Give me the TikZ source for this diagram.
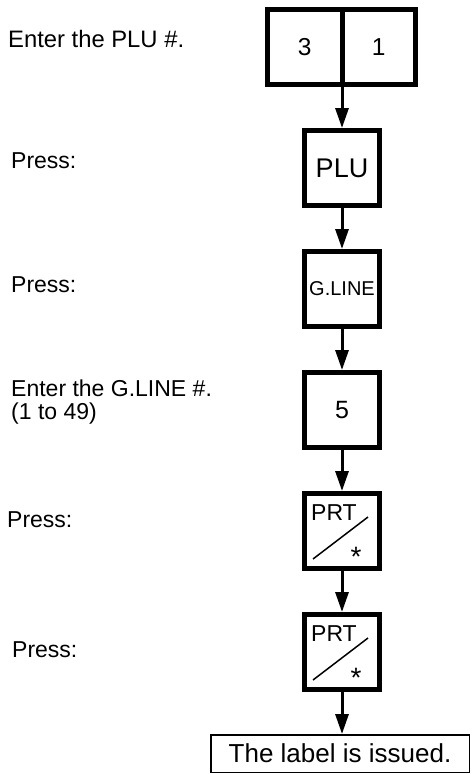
\documentclass[tikz,border=0pt]{standalone}
\usepackage{fontspec}
\setmainfont{Liberation Sans}
\usetikzlibrary{arrows.meta}

\tikzset{
  keybox/.style={draw, line width=5pt, minimum width=75pt, minimum height=75pt, inner sep=0pt, outer sep=0pt},
  flowarrow/.style={line width=3pt, -{Triangle[length=20pt,width=13pt]}, shorten >=2.5pt},
  steptext/.style={anchor=base west, inner sep=0pt, font=\fontsize{23}{25}\selectfont}
}

\begin{document}
\begin{tikzpicture}[x=1pt, y=-1pt]
\useasboundingbox (0,0) rectangle (472,774);

%keys
\path (304.75,47) node[keybox, minimum width=74.5pt, font=\fontsize{24.5}{28}\selectfont] (k3) {3};
\path (378.75,47) node[keybox, minimum width=73.5pt, font=\fontsize{24.5}{28}\selectfont] (k1) {1};
\path (342,168) node[keybox, font=\fontsize{27}{30}\selectfont] (plu) {PLU};
\path (342,289) node[keybox, font=\fontsize{20}{24}\selectfont] (gline) {G.LINE};
\path (342,410) node[keybox, font=\fontsize{25}{28}\selectfont] (k5) {5};
\path (342,531) node[keybox] (prta) {};
\path (342,652) node[keybox] (prtb) {};

%PRT keys
\path (prta.center) ++(-31,-11) node[anchor=base west, inner sep=0pt, font=\fontsize{23}{25}\selectfont] {PRT};
\draw[line width=1.5pt] (prta.center) ++(-29,28) -- ++(55,-42);
\path (prta.center) ++(14,26) node[inner sep=0pt, font=\fontsize{28}{30}\selectfont] {*};
\path (prtb.center) ++(-31,-11) node[anchor=base west, inner sep=0pt, font=\fontsize{23}{25}\selectfont] {PRT};
\draw[line width=1.5pt] (prtb.center) ++(-29,28) -- ++(55,-42);
\path (prtb.center) ++(14,26) node[inner sep=0pt, font=\fontsize{28}{30}\selectfont] {*};

\path (340,753.5) node[draw, line width=1.5pt, minimum width=258.5pt, minimum height=37.5pt, inner sep=0pt, outer sep=0pt, font=\fontsize{26}{30}\selectfont] (issued) {The label is issued.};

%steps
\path (8,47) node[steptext, font=\fontsize{23.8}{26}\selectfont] (plutxt) {Enter the PLU \#.};
\path (11,168) node[steptext] (presa) {Press:};
\path (11,292) node[steptext] (presb) {Press:};
\path (11,396) node[steptext] (gltxt) {Enter the G.LINE \#.};
\path (gltxt.base west) ++(0,23) node[steptext] (glrng) {(1 to 49)};
\path (7,527) node[steptext] (presc) {Press:};
\path (12,657) node[steptext] (presd) {Press:};

\draw[flowarrow] (k3.south east) -- (plu.north);
\draw[flowarrow] (plu.south) -- (gline.north);
\draw[flowarrow] (gline.south) -- (k5.north);
\draw[flowarrow] (k5.south) -- (prta.north);
\draw[flowarrow] (prta.south) -- (prtb.north);
\draw[flowarrow, shorten >=0.75pt] (prtb.south) -- (prtb.south |- issued.north);
\end{tikzpicture}
\end{document}
